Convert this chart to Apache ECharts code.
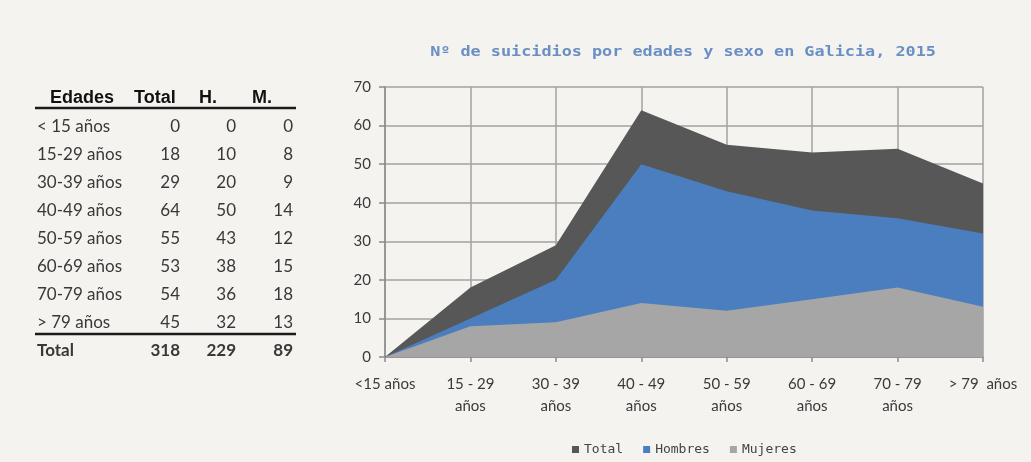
<!DOCTYPE html>
<html>
<head>
<meta charset="utf-8">
<title>Suicidios por edades y sexo en Galicia, 2015</title>
<script src="https://cdn.jsdelivr.net/npm/echarts@6/dist/echarts.min.js"></script>
<style>
  html, body { margin: 0; padding: 0; background: #f4f3ef; }
  #chart { width: 1031px; height: 462px; }
</style>
</head>
<body>
<div id="chart"></div>
<script>
// Age groups as shown on the x axis and in the table
const categories = ['<15 años', '15 - 29\naños', '30 - 39\naños', '40 - 49\naños',
  '50 - 59\naños', '60 - 69\naños', '70 - 79\naños', '> 79  años'];
const tableAges = ['< 15 años', '15-29 años', '30-39 años', '40-49 años',
  '50-59 años', '60-69 años', '70-79 años', '> 79 años'];

// Number of suicides per age group
const total   = [0, 18, 29, 64, 55, 53, 54, 45];
const hombres = [0, 10, 20, 50, 43, 38, 36, 32];
const mujeres = [0,  8,  9, 14, 12, 15, 18, 13];

const yTicks = { min: 0, max: 70, interval: 10 };

const colors = { total: '#575757', hombres: '#4a7ebf', mujeres: '#a6a6a6' };
const sum = arr => arr.reduce((a, b) => a + b, 0);

// ---- table on the left, drawn as graphic text ----
const table = [];
const headerFont = 'bold 18px "Liberation Sans", Arial, sans-serif';
const bodyFont = '17px Lato, "Open Sans", sans-serif';
const bodyBold = 'bold 17px Lato, "Open Sans", sans-serif';
const colRight = [180, 236, 293];
const rowY0 = 127, rowStep = 28;

function txt(x, y, text, font, align, fill) {
  return {
    type: 'text', x: x, y: y, silent: true,
    style: { text: text, font: font, fill: fill || '#383838',
             textAlign: align || 'left', textVerticalAlign: 'middle' }
  };
}
function rule(y) {
  return {
    type: 'line', silent: true,
    shape: { x1: 35, y1: y, x2: 296, y2: y },
    style: { stroke: '#1a1a1a', lineWidth: 2.5 }
  };
}

table.push(txt(50, 98, 'Edades', headerFont, 'left', '#111'));
table.push(txt(134, 98, 'Total', headerFont, 'left', '#111'));
table.push(txt(199, 98, 'H.', headerFont, 'left', '#111'));
table.push(txt(252, 98, 'M.', headerFont, 'left', '#111'));
table.push(rule(108));

tableAges.forEach((age, i) => {
  const y = rowY0 + rowStep * i;
  table.push(txt(37, y, age, bodyFont));
  table.push(txt(colRight[0], y, String(total[i]), bodyFont, 'right'));
  table.push(txt(colRight[1], y, String(hombres[i]), bodyFont, 'right'));
  table.push(txt(colRight[2], y, String(mujeres[i]), bodyFont, 'right'));
});
table.push(rule(334));

const yTot = rowY0 + rowStep * tableAges.length;
table.push(txt(37, yTot, 'Total', bodyBold));
table.push(txt(colRight[0], yTot, String(sum(total)), bodyBold, 'right'));
table.push(txt(colRight[1], yTot, String(sum(hombres)), bodyBold, 'right'));
table.push(txt(colRight[2], yTot, String(sum(mujeres)), bodyBold, 'right'));

// chart title (monospace, slightly widened)
table.push({
  type: 'text', x: 683, y: 52, scaleX: 1.2, silent: true,
  style: {
    text: 'Nº de suicidios por edades y sexo en Galicia, 2015',
    font: 'bold 14px "DejaVu Sans Mono", monospace',
    fill: '#6a8fc4', textAlign: 'center', textVerticalAlign: 'middle'
  }
});

const gridColor = '#a2a2a2';
const labelStyle = { fontFamily: 'Lato, "Open Sans", sans-serif', fontSize: 15, color: '#3a3a3a' };

function areaSeries(name, data, color) {
  return {
    name: name, type: 'line', data: data, color: color,
    symbol: 'none', showSymbol: false,
    lineStyle: { width: 0 },
    areaStyle: { color: color, opacity: 1 },
    emphasis: { disabled: true }
  };
}

const chart = echarts.init(document.getElementById('chart'), null, { renderer: 'canvas' });
chart.setOption({
  backgroundColor: '#f4f3ef',
  animation: false,
  grid: { left: 385, right: 48, top: 87, bottom: 105 },
  legend: {
    left: 572, top: 443, padding: 0,
    itemWidth: 7, itemHeight: 7, itemGap: 20, icon: 'rect',
    textStyle: { fontFamily: '"DejaVu Sans Mono", monospace', fontSize: 13, color: '#444' },
    data: ['Total', 'Hombres', 'Mujeres']
  },
  xAxis: {
    type: 'category', boundaryGap: false, data: categories,
    axisLine: { lineStyle: { color: '#8c8c8c', width: 1.5 } },
    axisTick: { show: true, length: 5, lineStyle: { color: '#8c8c8c', width: 1.5 } },
    splitLine: { show: true, lineStyle: { color: gridColor, width: 1.5 } },
    axisLabel: Object.assign({ interval: 0, margin: 16, lineHeight: 22 }, labelStyle)
  },
  yAxis: {
    type: 'value', min: yTicks.min, max: yTicks.max, interval: yTicks.interval,
    axisLine: { show: true, lineStyle: { color: '#8c8c8c', width: 1.5 } },
    axisTick: { show: true, length: 6, lineStyle: { color: '#8c8c8c', width: 1.5 } },
    splitLine: { show: true, lineStyle: { color: gridColor, width: 1.5 } },
    axisLabel: Object.assign({ margin: 14 }, labelStyle)
  },
  series: [
    areaSeries('Total', total, colors.total),
    areaSeries('Hombres', hombres, colors.hombres),
    areaSeries('Mujeres', mujeres, colors.mujeres)
  ],
  graphic: table
});
</script>
</body>
</html>
